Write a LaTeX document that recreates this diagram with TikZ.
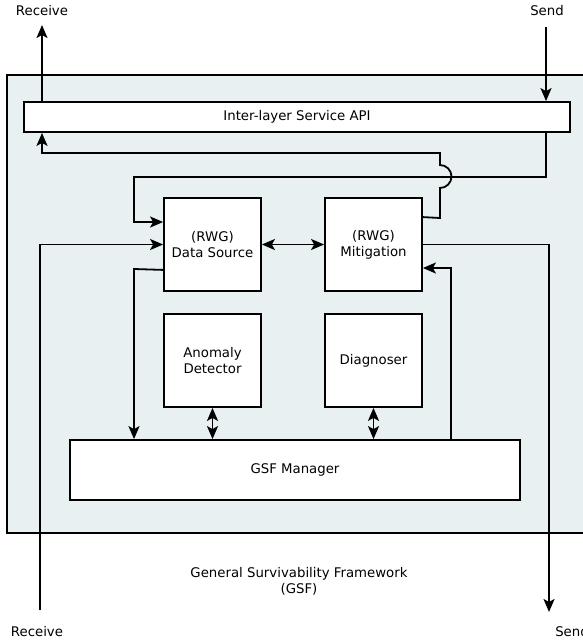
\documentclass[tikz,border=0pt]{standalone}
\usepackage{fontspec}
\setmainfont{DejaVu Sans}
\usetikzlibrary{arrows.meta,calc}
\definecolor{gsfbg}{RGB}{232,240,242}
\begin{document}
\begin{tikzpicture}[x=1pt,y=1pt,line width=1.8pt,
  >={Stealth[length=13pt,width=11pt,inset=3pt]},
  txt/.style={font=\fontsize{13.3}{16}\selectfont,align=center},
  box/.style={txt,draw,fill=white,minimum width=97pt,minimum height=93pt,inner sep=0pt},
  wide/.style={txt,draw,fill=white,inner sep=0pt}]
\useasboundingbox (0,0) rectangle (583,-643);
\clip (0,0) rectangle (583,-643);
\fill[white] (0,0) rectangle (583,-643);

% framework area
\draw[fill=gsfbg] (7,-75) rectangle (600,-533);

% components
\node[wide,minimum width=546pt,minimum height=30pt] (api) at (297,-117) {Inter-layer Service API};
\node[box] (ds)  at (212.5,-244.5) {(RWG)\\Data Source};
\node[box] (mit) at (373.5,-244.5) {(RWG)\\Mitigation};
\node[box] (ad)  at (212.5,-360.5) {Anomaly\\Detector};
\node[box] (dg)  at (373.5,-360.5) {Diagnoser};
\node[wide,minimum width=450pt,minimum height=60pt] (mgr) at (295,-470) {GSF Manager};

% labels
\node[txt] (rt) at (42,-11) {Receive};
\node[txt] (st) at (547,-11) {Send};
\node[txt] (rb) at (37,-632) {Receive};
\node[txt] (sb) at (572,-632) {Send};
\node[txt] (gsf) at (299,-581) {General Survivability Framework\\(GSF)};

% free ends and routing columns
\coordinate (rxt) at (42,-25);
\coordinate (sxt) at (546,-27);
\coordinate (rxb) at (40,-610);
\coordinate (sxb) at (549,-612);
\coordinate (cL) at (134,0);
\coordinate (cM) at (451,0);

% external links
\draw[->] (api.north -| rxt) -- (rxt);
\draw[->] (sxt) -- (sxt |- api.north);
\draw[->] (rxb) -- (rxb |- ds.west) -- (ds.west);
\draw[->] (mit.east) -- (mit.east -| sxb) -- (sxb);

% API down to the data source
\draw[->] (api.south -| sxt) -- (546,-177) -- (134,-177) -- (134,-222) -- (ds.west |- 0,-222);

% mitigation back up to the API, hopping over the line above
\draw[->] ([yshift=-20pt]mit.north east) -- (440,-218) -- (440,-188)
  arc[start angle=-90,end angle=90,radius=11.5pt] -- (440,-153) -- (42,-153) -- (api.south -| rxt);

% internal links
\draw[<->] (ds.east) -- (mit.west);
\draw[<->] (ad.south) -- (mgr.north -| ad.south);
\draw[<->] (dg.south) -- (mgr.north -| dg.south);
\draw[->] ([yshift=22pt]ds.south west) -- (134,-269) -- (mgr.north -| cL);
\draw[->] (mgr.north -| cM) -- (451,-268) -- (mit.east |- 0,-268);
\end{tikzpicture}
\end{document}
